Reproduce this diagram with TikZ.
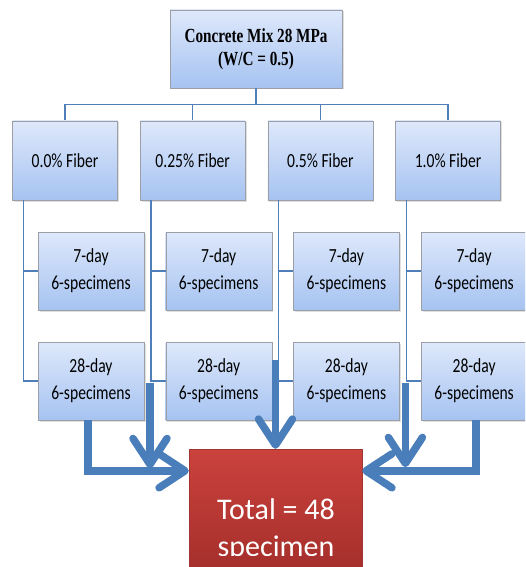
\documentclass[tikz,border=0pt]{standalone}
\usepackage{fontspec}
\setmainfont{Carlito}
\newfontfamily\boxfont[FakeStretch=0.78]{Carlito}
\newfontfamily\titlefont[FakeStretch=0.76]{Liberation Serif}
\usetikzlibrary{arrows.meta,shadows}
\definecolor{boxtop}{HTML}{DEE8FB}
\definecolor{boxbot}{HTML}{A6C3F1}
\definecolor{boxline}{HTML}{9C9FA6}
\definecolor{linkblue}{HTML}{4F7FB8}
\definecolor{fatblue}{HTML}{4A7EBB}
\definecolor{redtop}{HTML}{CB423D}
\definecolor{redbot}{HTML}{9C2A27}
\tikzset{
  bluebox/.style={draw=boxline, top color=boxtop, bottom color=boxbot, inner sep=0pt,
    align=center, drop shadow={opacity=0.25, shadow xshift=1.5pt, shadow yshift=-1.5pt}},
  mixbox/.style={bluebox, minimum width=172pt, minimum height=78pt,
    font=\titlefont\bfseries\fontsize{20}{23}\selectfont},
  fiberbox/.style={bluebox, minimum width=105pt, minimum height=79pt,
    font=\boxfont\fontsize{20}{27}\selectfont},
  daybox/.style={bluebox, minimum width=106pt, minimum height=78pt,
    font=\boxfont\fontsize{20}{27}\selectfont},
  totalbox/.style={draw=redtop!80!black, top color=redtop, bottom color=redbot,
    minimum width=173pt, minimum height=151pt, inner sep=0pt},
  totaltext/.style={text=white, inner sep=0pt, font=\fontsize{30}{37}\selectfont},
  link/.style={draw=linkblue, line width=1.3pt},
  fat/.style={draw=fatblue, line width=7.5pt, -{Straight Barb[length=26pt,width=34pt,round]}}
}
\begin{document}
\begin{tikzpicture}[x=1pt,y=-1pt]
  \useasboundingbox (0,0) rectangle (525,567);
  \clip (0,0) rectangle (525,567);
  \node[mixbox] (mix) at (256,49) {Concrete Mix 28 MPa\\(W/C = 0.5)};
  % four fiber columns
  \foreach \i/\txt in {1/0.0\%,2/0.25\%,3/0.5\%,4/1.0\%}{
    \pgfmathsetmacro\cx{65+127.7*(\i-1)}
    \draw[link] (mix.south) -- ++(0,16) -| (\cx,121);
    \node[fiberbox] (f\i) at (\cx,160.5) {\txt{} Fiber};
    \draw[link] ([xshift=11pt]f\i.south west) -- ++(0,180);
    \node[daybox] (d7-\i) at (\cx+26,271) {7-day\\6-specimens};
    \node[daybox] (d28-\i) at (\cx+26,381) {28-day\\6-specimens};
    \draw[link] ([xshift=11pt]f\i.south west) |- (d7-\i.west);
    \draw[link] ([xshift=11pt]f\i.south west) |- (d28-\i.west);
  }
  \node[totalbox] (total) at (275.5,524.5) {};
  \begin{scope}
    \clip (189,449) rectangle (363,555);
    \node[totaltext, anchor=base] (tot1) at (276,519) {Total = 48};
    \node[totaltext, anchor=base] (tot2) at (276,556) {specimen};
  \end{scope}
  % thick arrows into the total
  \draw[fat] ([xshift=-3pt]d28-1.south) |- ([yshift=-22pt]total.north west);
  \draw[fat] ([xshift=10pt]f2.south west) ++(0,183) -- ++(0,85);
  \draw[fat] (total.north) ++(0,-89) -- (total.north);
  \draw[fat] ([xshift=10pt]f4.south west) ++(0,183) -- ++(0,84);
  \draw[fat] ([xshift=2pt]d28-4.south) |- ([yshift=-22pt]total.north east);
\end{tikzpicture}
\end{document}
